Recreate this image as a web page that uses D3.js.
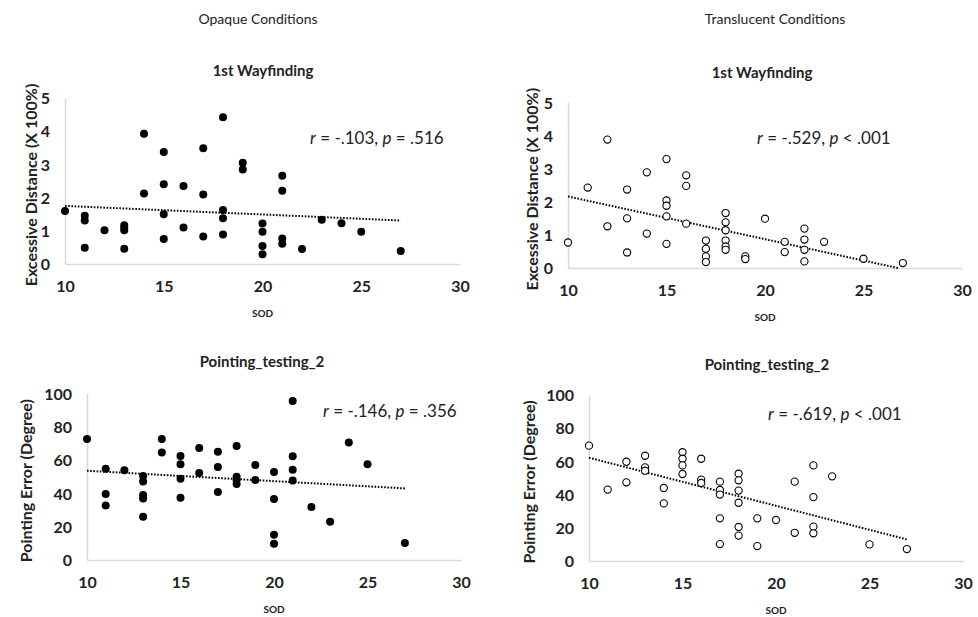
<!DOCTYPE html>
<meta charset="utf-8">
<script src="https://d3js.org/d3.v7.min.js"></script>
<style>
  body { margin: 0; background: #fff; }
  text { font-family: Lato, "Open Sans", sans-serif; fill: #222; }
</style>
<div id="chart"></div>
<script>
// x ticks shared by all panels
const sodTicks = [10, 15, 20, 25, 30];
const wayTicks = [0, 1, 2, 3, 4, 5];
const pointTicks = [0, 20, 40, 60, 80, 100];

// Opaque, 1st wayfinding
const opaqueWayX = [10,11,11,11,12,13,13,13,13,14,14,15,15,15,15,16,16,17,17,17,18,18,18,18,19,19,20,20,20,20,21,21,21,21,22,23,24,25,27];
const opaqueWayY = [1.6,1.45,1.31,0.49,1.02,1.17,1.09,1.02,0.46,3.92,2.12,3.37,2.4,1.5,0.75,2.35,1.1,3.49,2.09,0.83,4.42,1.63,1.38,0.89,3.05,2.85,1.22,0.97,0.54,0.29,2.66,2.21,0.77,0.61,0.45,1.33,1.23,0.97,0.39];
const opaqueWayTrend = [[10, 1.75], [27, 1.31]];

// Translucent, 1st wayfinding
const transWayX = [10,11,12,12,13,13,13,14,14,15,15,15,15,15,16,16,16,17,17,17,17,18,18,18,18,18,18,19,19,20,21,21,22,22,22,22,23,25,27];
const transWayY = [0.77,2.43,3.88,1.26,2.37,1.5,0.47,2.89,1.04,3.29,2.04,1.88,1.56,0.73,2.8,2.48,1.34,0.83,0.58,0.35,0.18,1.66,1.38,1.14,0.83,0.65,0.55,0.35,0.27,1.49,0.79,0.48,1.19,0.86,0.55,0.2,0.79,0.28,0.15];
const transWayTrend = [[10, 2.16], [26.75, 0]];

// Opaque, pointing
const opaquePointX = [10,11,11,11,12,13,13,13,13,13,14,14,15,15,15,15,16,16,17,17,17,18,18,18,18,19,19,20,20,20,20,21,21,21,21,22,23,24,25,27];
const opaquePointY = [72.7,54.8,39.6,32.8,53.9,50.4,47.2,39,37,26,72.7,64.5,62.5,57.5,48.8,37.4,67.3,52.3,65,55.9,40.8,68.5,50,48,45.6,57,48,52.9,36.6,15.2,9.8,95.5,62.3,54.2,47.8,31.8,23,70.5,57.5,10.2];
const opaquePointTrend = [[10, 53.6], [27, 43]];

// Translucent, pointing
const transPointX = [10,11,12,12,13,13,13,14,14,15,15,15,15,16,16,16,17,17,17,17,17,18,18,18,18,18,18,19,19,20,21,21,22,22,22,22,23,25,27];
const transPointY = [69.5,43,59.8,47.4,63.4,56.4,54.4,44,34.7,65.5,61.6,57.6,52.4,61.6,49,47,47.8,42.8,40,25.7,10.2,52.6,48.6,42.4,35.1,20.5,15.3,25.7,9,24.7,47.8,17,57.6,38.5,20.7,16.7,51,10,7.2];
const transPointTrend = [[10, 62.2], [27, 13]];

const panels = [
  {x: opaqueWayX, y: opaqueWayY, trend: opaqueWayTrend, filled: true,
   title: "1st Wayfinding", ylab: "Excessive Distance (X 100%)", stat: ["-.103", "= .516"],
   yTicks: wayTicks, left: 65, right: 460, bottom: 264, top: 98,
   titleX: 263, titleY: 70, ylabX: 30, statX: 310, statY: 137},
  {x: transWayX, y: transWayY, trend: transWayTrend, filled: false,
   title: "1st Wayfinding", ylab: "Excessive Distance (X 100%)", stat: ["-.529", "< .001"],
   yTicks: wayTicks, left: 568, right: 962, bottom: 268, top: 102.5,
   titleX: 762, titleY: 72, ylabX: 531, statX: 757, statY: 137},
  {x: opaquePointX, y: opaquePointY, trend: opaquePointTrend, filled: true,
   title: "Pointing_testing_2", ylab: "Pointing Error (Degree)", stat: ["-.146", "= .356"],
   yTicks: pointTicks, left: 87, right: 461, bottom: 560, top: 393.5,
   titleX: 262, titleY: 361, ylabX: 25, statX: 323, statY: 410},
  {x: transPointX, y: transPointY, trend: transPointTrend, filled: false,
   title: "Pointing_testing_2", ylab: "Pointing Error (Degree)", stat: ["-.619", "< .001"],
   yTicks: pointTicks, left: 589, right: 963, bottom: 561, top: 395,
   titleX: 767, titleY: 364, ylabX: 528, statX: 768, statY: 413}
];

const svg = d3.select("#chart").append("svg")
  .attr("width", 978).attr("height", 617);

svg.append("text").attr("x", 258).attr("y", 18).attr("text-anchor", "middle")
  .attr("dominant-baseline", "central").style("font-size", "14px").text("Opaque Conditions");
svg.append("text").attr("x", 775).attr("y", 18).attr("text-anchor", "middle")
  .attr("dominant-baseline", "central").style("font-size", "14px").text("Translucent Conditions");

panels.forEach(p => {
  const yMax = p.yTicks[p.yTicks.length - 1];
  const x = d3.scaleLinear().domain([10, 30]).range([p.left, p.right]);
  const y = d3.scaleLinear().domain([0, yMax]).range([p.bottom, p.top]);
  const g = svg.append("g");

  // axes
  const xa = g.append("g").attr("transform", `translate(0,${p.bottom})`)
    .call(d3.axisBottom(x).tickValues(sodTicks).tickFormat(d3.format("d")).tickSize(0).tickPadding(17));
  const ya = g.append("g").attr("transform", `translate(${p.left},0)`)
    .call(d3.axisLeft(y).tickValues(p.yTicks).tickFormat(d3.format("d")).tickSize(0).tickPadding(15));
  [xa, ya].forEach(a => {
    a.select(".domain").attr("stroke", "#d9d9d9").attr("stroke-width", 1.5);
    a.selectAll("text").style("font-size", "16px").style("font-weight", "bold")
      .style("font-family", "Lato, sans-serif").attr("fill", "#222");
  });
  ya.selectAll("text").attr("dy", "0.35em");

  // titles and labels
  g.append("text").attr("x", p.titleX).attr("y", p.titleY).attr("text-anchor", "middle")
    .attr("dominant-baseline", "central").style("font-size", "15px").style("font-weight", "bold")
    .text(p.title);
  g.append("text").attr("x", (p.left + p.right) / 2).attr("y", p.bottom + 49)
    .attr("text-anchor", "middle").attr("dominant-baseline", "central")
    .style("font-size", "10px").style("font-weight", "bold").text("SOD");
  g.append("text")
    .attr("transform", `translate(${p.ylabX},${(p.top + p.bottom) / 2 + 4}) rotate(-90)`)
    .attr("text-anchor", "middle").attr("dominant-baseline", "central")
    .style("font-size", "16px").style("font-weight", "bold").text(p.ylab);

  const st = g.append("text").attr("x", p.statX).attr("y", p.statY)
    .attr("dominant-baseline", "central").style("font-size", "17px");
  st.append("tspan").style("font-style", "italic").text("r");
  st.append("tspan").text(` = ${p.stat[0]}, `);
  st.append("tspan").style("font-style", "italic").text("p");
  st.append("tspan").text(` ${p.stat[1]}`);

  // trend line
  g.append("path").datum(p.trend)
    .attr("fill", "none").attr("stroke", "#000").attr("stroke-width", 2)
    .attr("stroke-dasharray", "1.6,1.6")
    .attr("d", d3.line().x(d => x(d[0])).y(d => y(d[1])));

  // points
  g.append("g").selectAll("circle")
    .data(p.x.map((v, i) => [v, p.y[i]]))
    .join("circle")
      .attr("cx", d => x(d[0]))
      .attr("cy", d => y(d[1]))
      .attr("r", p.filled ? 4 : 3.6)
      .attr("fill", p.filled ? "#000" : "#fff")
      .attr("stroke", "#000")
      .attr("stroke-width", p.filled ? 0 : 1.1);
});
</script>
